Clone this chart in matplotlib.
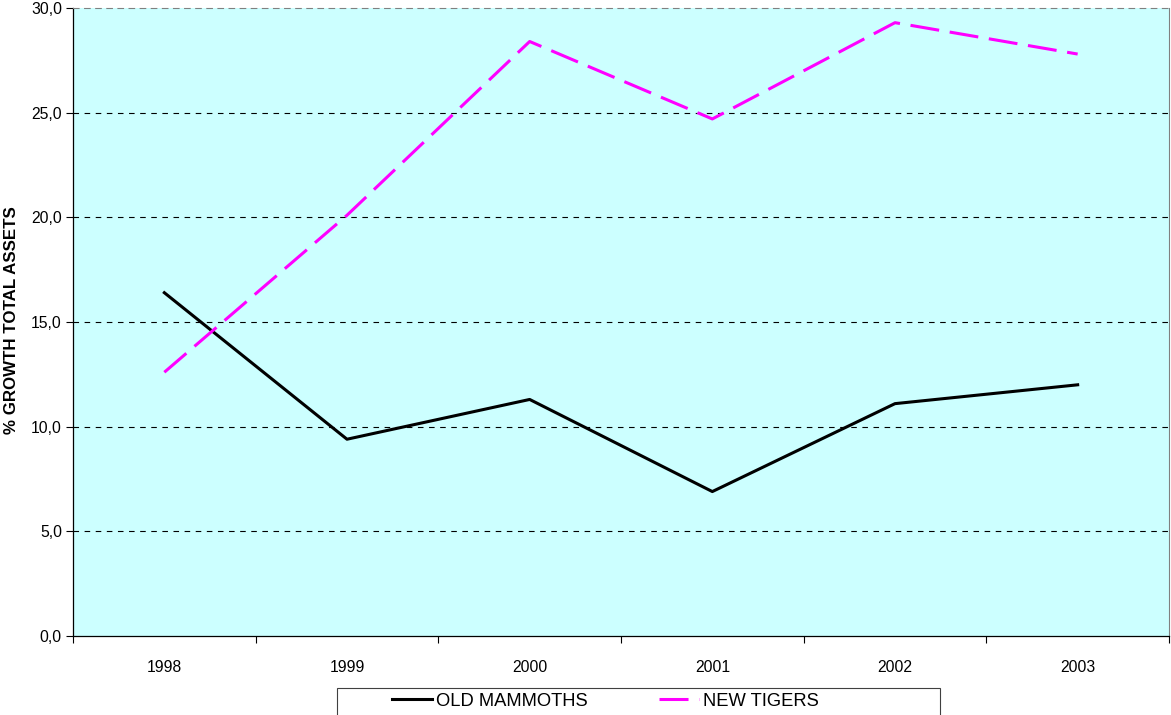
import matplotlib.pyplot as plt
import numpy as np
from matplotlib.ticker import FixedLocator, FuncFormatter
from matplotlib.patches import Rectangle

plt.rcParams['font.family'] = ['Liberation Sans', 'DejaVu Sans']

years = ['1998', '1999', '2000', '2001', '2002', '2003']
old_mammoths = [16.4, 9.4, 11.3, 6.9, 11.1, 12.0]
new_tigers = [12.6, 20.1, 28.4, 24.7, 29.3, 27.8]

fs = 11.3
W, H = 1171, 715

fig = plt.figure(figsize=(W / 100, H / 100), dpi=100)
ax = fig.add_axes([73 / W, 79 / H, 1096 / W, 628 / H])
ax.set_facecolor('#ccffff')

x = np.arange(len(years))

# grid lines
for v in [5, 10, 15, 20, 25]:
    ax.axhline(v, color='black', lw=0.8, ls=(0, (5, 5)), zorder=1)

ax.plot(x, old_mammoths, color='black', lw=2.2, label='OLD MAMMOTHS', zorder=3)
ax.plot(x, new_tigers, color='#ff00ff', lw=2.2, ls=(0, (9.5, 3.5)),
        label='NEW TIGERS', zorder=3)

ax.set_xlim(-0.5, len(years) - 0.5)
ax.set_ylim(0, 30)

ax.set_xticks(x)
ax.set_xticklabels(years)
ax.xaxis.set_minor_locator(FixedLocator(np.arange(-0.5, len(years), 1.0)))
ax.tick_params(axis='x', which='major', length=0, pad=17, labelsize=fs)
ax.tick_params(axis='x', which='minor', length=5, direction='out', width=0.8)

ax.set_yticks(np.arange(0, 31, 5))
ax.yaxis.set_major_formatter(FuncFormatter(lambda v, p: f'{v:.1f}'.replace('.', ',')))
ax.tick_params(axis='y', length=5, direction='out', width=0.8, labelsize=fs, pad=3)

ax.spines['left'].set_color('black')
ax.spines['bottom'].set_color('black')
ax.spines['left'].set_linewidth(0.9)
ax.spines['bottom'].set_linewidth(0.9)
ax.spines['right'].set_color('#808080')
ax.spines['top'].set_color('#808080')
ax.spines['top'].set_linestyle((0, (5, 5)))

ax.set_ylabel('% GROWTH TOTAL ASSETS', fontsize=12.2, fontweight='bold')
ax.yaxis.set_label_coords(-54 / 1096, 0.503)

# legend box (bottom edge falls outside the figure)
fig.patches.append(Rectangle((337 / W, -0.05), 603 / W, 0.05 + 27 / H,
                             transform=fig.transFigure, facecolor='white',
                             edgecolor='#404040', lw=0.8))
leg = fig.legend(loc='center left', bbox_to_anchor=(392 / W, 1 - 701 / H),
                 ncol=2, fontsize=13.2, frameon=False,
                 handlelength=2.18, handletextpad=0.22, columnspacing=3.88,
                 borderpad=0, borderaxespad=0)

fig.savefig('out.png', dpi=100)
